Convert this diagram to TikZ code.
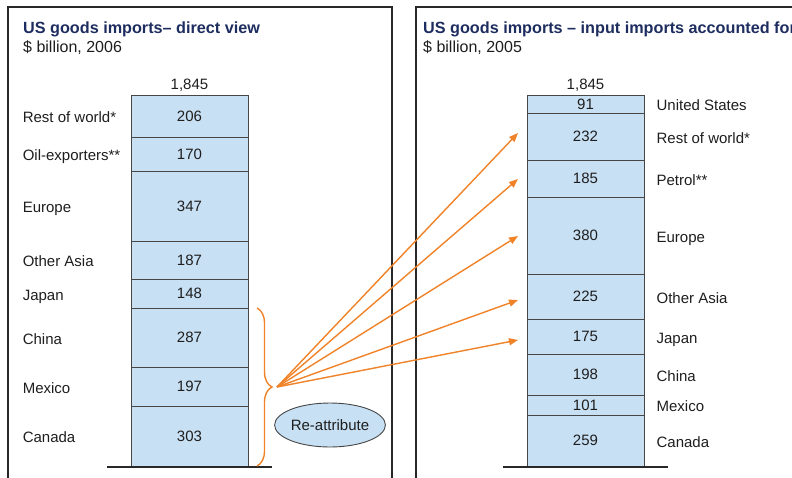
\documentclass[tikz,border=0pt]{standalone}
\usepackage{fontspec}
\setmainfont{Liberation Sans}
\usetikzlibrary{arrows.meta,decorations.pathreplacing,shapes.geometric}
\definecolor{barblue}{RGB}{200,224,244}
\definecolor{segline}{RGB}{70,70,70}
\definecolor{navy}{RGB}{30,45,95}
\definecolor{arrorange}{RGB}{240,130,40}
\definecolor{framegray}{RGB}{40,40,40}
\definecolor{txtgray}{RGB}{30,30,30}
\newcommand\bodyfnt{\fontsize{15}{18}\selectfont}
\newcommand\titlefnt{\fontsize{16.2}{19}\selectfont\bfseries}
\newcommand\subfnt{\fontsize{16}{19}\selectfont}
\begin{document}
\begin{tikzpicture}[x=1pt,y=-1pt,
  frame/.style={draw=framegray,line width=1.1pt},
  title/.style={anchor=base west,inner sep=0pt,font=\titlefnt,text=navy},
  subtitle/.style={anchor=base west,inner sep=0pt,font=\subfnt,text=txtgray},
  seg/.style={draw=segline,fill=barblue,line width=0.8pt,minimum width=117pt,inner sep=0pt,
    text height=10.7pt,text depth=0pt,font=\bodyfnt,text=txtgray},
  lab/.style={inner sep=0pt,text height=10.7pt,text depth=0pt,font=\bodyfnt,text=txtgray},
  num/.style={anchor=base,inner sep=0pt,font=\bodyfnt,text=txtgray},
  baseline/.style={draw=framegray,line width=2.8pt},
  bracestyle/.style={draw=arrorange,line width=1.4pt,decorate,decoration={brace,amplitude=15pt}},
  arr/.style={draw=arrorange,line width=1.4pt,-{Triangle[length=9pt,width=7pt]}},
  bubble/.style={ellipse,draw=segline,fill=barblue,line width=0.9pt,minimum width=100pt,
    minimum height=44pt,inner sep=0pt,font=\bodyfnt,text=txtgray}
]
\useasboundingbox (0,0) rectangle (792,477);
\clip (0,0) rectangle (792,477);
% frames
\draw[frame] (8,480) -- (8,7) -- (392,7) -- (392,480);
\draw[frame] (416,480) -- (416,7) -- (800,7);
% titles
\node[title] (t1) at (23,33) {US goods imports– direct view};
\node[subtitle] (s1) at (23,52) {\$ billion, 2006};
\node[title] (t2) at (423,33) {US goods imports – input imports accounted for};
\node[subtitle] (s2) at (423,52) {\$ billion, 2005};
% totals
\node[num] (tot1) at (189.5,89) {1,845};
\node[num] (tot2) at (585.5,89) {1,845};
% left bar
\foreach \n/\t/\b/\v in {l1/95/137/206,l2/137/171/170,l3/171/241/347,l4/241/279/187,
  l5/279/308/148,l6/308/367/287,l7/367/406/197,l8/406/466/303}
  \node[seg,minimum height={\b-\t}] (\n) at (189.5,{(\t+\b)/2}) {\v};
\foreach \n/\txt in {l1/Rest of world*,l2/Oil-exporters**,l3/Europe,l4/Other Asia,
  l5/Japan,l6/China,l7/Mexico,l8/Canada}
  \node[lab,anchor=west,xshift=-108pt,yshift=-1.3pt] at (\n.west) {\txt};
% right bar
\foreach \n/\t/\b/\v in {r1/95/113/91,r2/113/160/232,r3/160/197/185,r4/197/274/380,
  r5/274/319/225,r6/319/354/175,r7/354/395/198,r8/395/415/101,r9/415/466/259}
  \node[seg,minimum height={\b-\t}] (\n) at (585.5,{(\t+\b)/2}) {\v};
\foreach \n/\txt in {r1/United States,r2/Rest of world*,r3/Petrol**,r4/Europe,
  r5/Other Asia,r6/Japan,r7/China,r8/Mexico,r9/Canada}
  \node[lab,anchor=west,xshift=12pt,yshift=-1.3pt] at (\n.east) {\txt};
% base lines
\draw[baseline] (107,467) -- (272,467);
\draw[baseline] (503,467) -- (668,467);
% brace
\draw[bracestyle] (257,308) -- (257,466);
\coordinate (tip) at (277,387);
% arrows
\coordinate (a1) at (518,133);
\coordinate (a2) at (518,179);
\coordinate (a3) at (518,236);
\coordinate (a4) at (518,300);
\coordinate (a5) at (518,340);
\foreach \a in {a1,a2,a3,a4,a5}
  \draw[arr] (tip) -- (\a);
% re-attribute
\node[bubble] (re) at (330,425) {Re-attribute};
\end{tikzpicture}
\end{document}
